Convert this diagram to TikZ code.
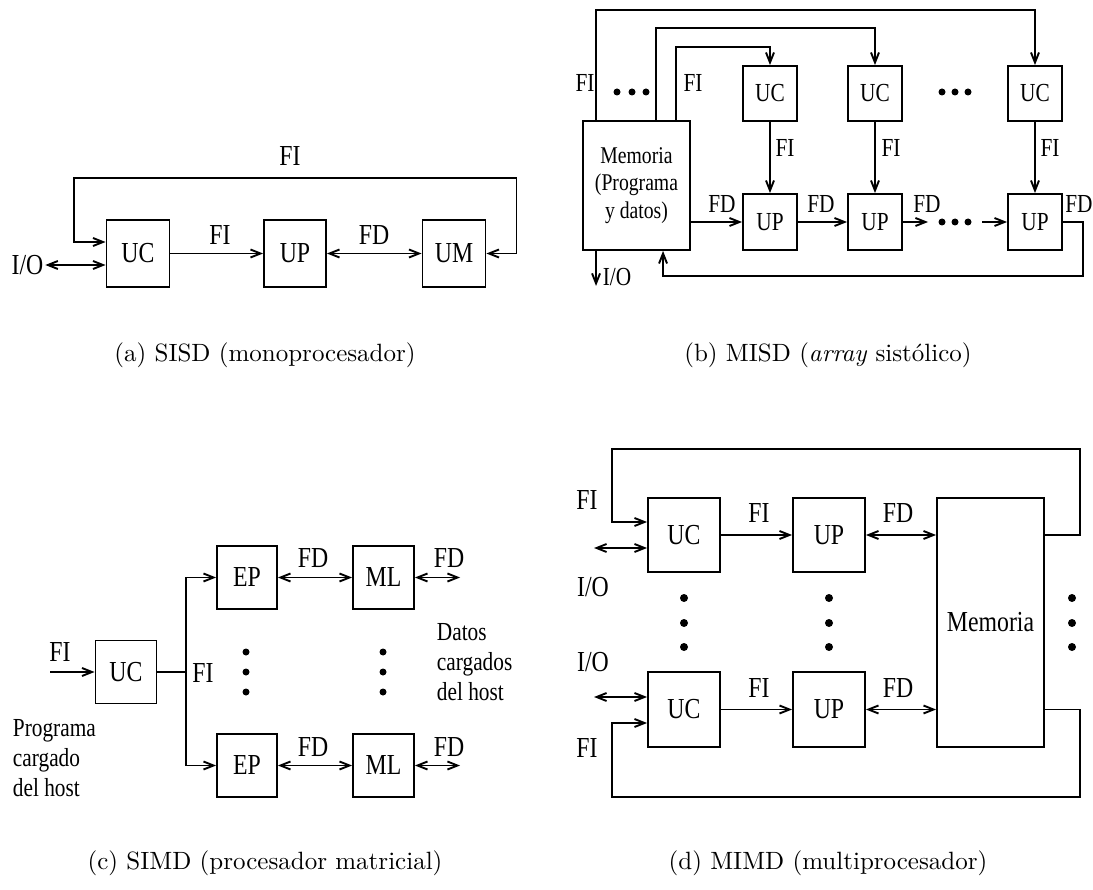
\documentclass[tikz,border=0pt]{standalone}
\usepackage{fontspec}
\usetikzlibrary{arrows.meta}
\newfontfamily\diagfont[FakeStretch=0.82]{Liberation Serif}
\newfontfamily\capfont{lmroman10-regular.otf}[ItalicFont=lmroman10-italic.otf]

\begin{document}
\begin{tikzpicture}[x=1pt, y=-1pt, line width=1.9pt, >={Straight Barb[length=10pt,width=8pt]},
  box/.style={draw, inner sep=0pt, font=\diagfont\fontsize{29}{32}\selectfont},
  lbl/.style={inner sep=1pt, font=\diagfont\fontsize{29}{32}\selectfont},
  lblb/.style={inner sep=1pt, font=\diagfont\fontsize{26}{28}\selectfont},
  capt/.style={font=\capfont\fontsize{25}{28}\selectfont},
  dot/.style={fill=black}]
\useasboundingbox (0,0) rectangle (1093,890);
% (a) SISD
\node[box, minimum width=63, minimum height=67] (uca) at (138,253.5) {UC};
\node[box, minimum width=62, minimum height=67] (upa) at (295,253.5) {UP};
\node[box, minimum width=63, minimum height=67] (uma) at (454,253.5) {UM};
\node[lbl] (ioa) at (27.5,265) {I/O};
\draw[->] (uca) -- (upa);
\node[lbl] at (220,235) {FI};
\draw[<->] (upa) -- (uma);
\node[lbl] at (374,235) {FD};
\draw[<->] ([yshift=11.5]uca.west) -| (74,178) -| (516.5,253.5) -- (uma.east);
\node[lbl] at (290,156) {FI};
\draw[<->] (ioa) -- ([yshift=-11.5]uca.west);
\node[capt] at (265,355) {(a) SISD (monoprocesador)};
% (b) MISD -- memory feeds every UC, the UPs form the pipe
\node[box, align=center, minimum width=107, minimum height=129, font=\diagfont\fontsize{24}{27.5}\selectfont] (memb) at (636.5,185.5) {Memoria\\(Programa\\y datos)};
\node[box, minimum width=54, minimum height=55, font=\diagfont\fontsize{26}{28}\selectfont] (ucb1) at (770,93.5) {UC};
\node[box, minimum width=54, minimum height=55, font=\diagfont\fontsize{26}{28}\selectfont] (ucb2) at (875,93.5) {UC};
\node[box, minimum width=54, minimum height=55, font=\diagfont\fontsize{26}{28}\selectfont] (ucb3) at (1035,93.5) {UC};
\node[box, minimum width=54, minimum height=56, font=\diagfont\fontsize{26}{28}\selectfont] (upb1) at (770,222) {UP};
\node[box, minimum width=54, minimum height=56, font=\diagfont\fontsize{26}{28}\selectfont] (upb2) at (875,222) {UP};
\node[box, minimum width=54, minimum height=56, font=\diagfont\fontsize{26}{28}\selectfont] (upb3) at (1035,222) {UP};
\draw[->] ([xshift=14]memb.north west) -- ++(0,-110) -| (ucb3.north);
\draw[->] ([xshift=74]memb.north west) -- ++(0,-92) -| (ucb2.north);
\draw[->] ([xshift=94]memb.north west) -- ++(0,-73) -| (ucb1.north);
\node[lblb] at (585,83) {FI};
\node[lblb] at (693,83) {FI};
\foreach \dx in {617,632,646} \fill[dot] (\dx,92) circle (3.5pt);
\foreach \dx in {942,955,968} \fill[dot] (\dx,92) circle (3.5pt);
\draw[->] (ucb1) -- (upb1);
\draw[->] (ucb2) -- (upb2);
\draw[->] (ucb3) -- (upb3);
\node[lblb] at (785,148) {FI};
\node[lblb] at (891,148) {FI};
\node[lblb] at (1050,148) {FI};
\draw[->] (memb.east |- upb1) -- (upb1);
\draw[->] (upb1) -- (upb2);
\coordinate (dotsb) at (955,222);
\draw[->] (upb2) -- ([xshift=-27]dotsb);
\foreach \dx in {-13,0,13} \fill[dot] ([xshift=\dx]dotsb) circle (3.5pt);
\draw[->] ([xshift=27]dotsb) -- (upb3);
\node[lblb] at (722,204) {FD};
\node[lblb] at (821,204) {FD};
\node[lblb] at (927,204) {FD};
\node[lblb] at (1079,204) {FD};
\draw[->] (upb3.east) -- ++(20,0) -- ++(0,54) -| ([xshift=81]memb.south west);
\draw[->] ([xshift=14]memb.south west) -- ++(0,35);
\node[lblb] at (617,277) {I/O};
\node[capt] at (828,355) {(b) MISD (\textit{array} sistólico)};
% (c) SIMD
\node[box, minimum width=61, minimum height=63] (ucc) at (126,672) {UC};
\node[box, minimum width=60, minimum height=63] (epc1) at (247,577.5) {EP};
\node[box, minimum width=61, minimum height=63] (mlc1) at (383.5,577.5) {ML};
\node[box, minimum width=60, minimum height=63] (epc2) at (247,765.5) {EP};
\node[box, minimum width=61, minimum height=63] (mlc2) at (383.5,765.5) {ML};
\coordinate (cin) at (50,672);
\coordinate (brc) at (186,672);
\coordinate (outc1) at (460,577.5);
\coordinate (outc2) at (460,765.5);
\draw[->] (cin) -- (ucc);
\node[lbl] at (60,652) {FI};
\draw (ucc) -- (brc);
\draw[->] (brc) |- (epc1);
\draw[->] (brc) |- (epc2);
\node[lbl] at (203,673) {FI};
\draw[<->] (epc1) -- (mlc1);
\draw[<->] (mlc1) -- (outc1);
\draw[<->] (epc2) -- (mlc2);
\draw[<->] (mlc2) -- (outc2);
\node[lbl] at (313,558) {FD};
\node[lbl] at (449,558) {FD};
\node[lbl] at (313,747) {FD};
\node[lbl] at (449,747) {FD};
\foreach \dy in {652,672,692} {
  \fill[dot] (246,\dy) circle (3.5pt);
  \fill[dot] (383,\dy) circle (3.5pt);
}
\node[lblb, anchor=west, align=left, font=\diagfont\fontsize{26}{30}\selectfont] at (435,662) {Datos\\cargados\\del host};
\node[lblb, anchor=west, align=left, font=\diagfont\fontsize{26}{30}\selectfont] at (11,758) {Programa\\cargado\\del host};
\node[capt] at (265,863) {(c) SIMD (procesador matricial)};
% (d) MIMD -- shared memory, rows of UC/UP
\node[box, minimum width=72, minimum height=74] (ucd1) at (684,535) {UC};
\node[box, minimum width=72, minimum height=74] (upd1) at (829,535) {UP};
\node[box, minimum width=72, minimum height=75] (ucd2) at (684,709.5) {UC};
\node[box, minimum width=72, minimum height=75] (upd2) at (829,709.5) {UP};
\node[box, minimum width=107, minimum height=249] (memd) at (990.5,622.5) {Memoria};
\draw[->] (ucd1) -- (upd1);
\draw[->] (ucd2) -- (upd2);
\draw[<->] (upd1) -- (upd1 -| memd.west);
\draw[<->] (upd2) -- (upd2 -| memd.west);
\node[lbl] at (759,513) {FI};
\node[lbl] at (898,513) {FD};
\node[lbl] at (759,688) {FI};
\node[lbl] at (898,688) {FD};
\draw[->] (memd.east |- upd1) -| (1080,449) -| (612,522) -- ([yshift=13]ucd1.west);
\draw[->] (memd.east |- upd2) -| (1080,797) -| (612,723) -- ([yshift=-13.5]ucd2.west);
\coordinate (iod1) at (594,548);
\coordinate (iod2) at (594,697);
\draw[<->] (iod1) -- ([yshift=-13]ucd1.west);
\draw[<->] (iod2) -- ([yshift=12.5]ucd2.west);
\node[lbl] at (587,500) {FI};
\node[lbl] at (593,587) {I/O};
\node[lbl] at (593,662) {I/O};
\node[lbl] at (587,748) {FI};
\foreach \dy in {598,623,647} {
  \fill[dot] (684,\dy) circle (4pt);
  \fill[dot] (829,\dy) circle (4pt);
  \fill[dot] (1072,\dy) circle (4pt);
}
\node[capt] at (828,863) {(d) MIMD (multiprocesador)};
\end{tikzpicture}
\end{document}
